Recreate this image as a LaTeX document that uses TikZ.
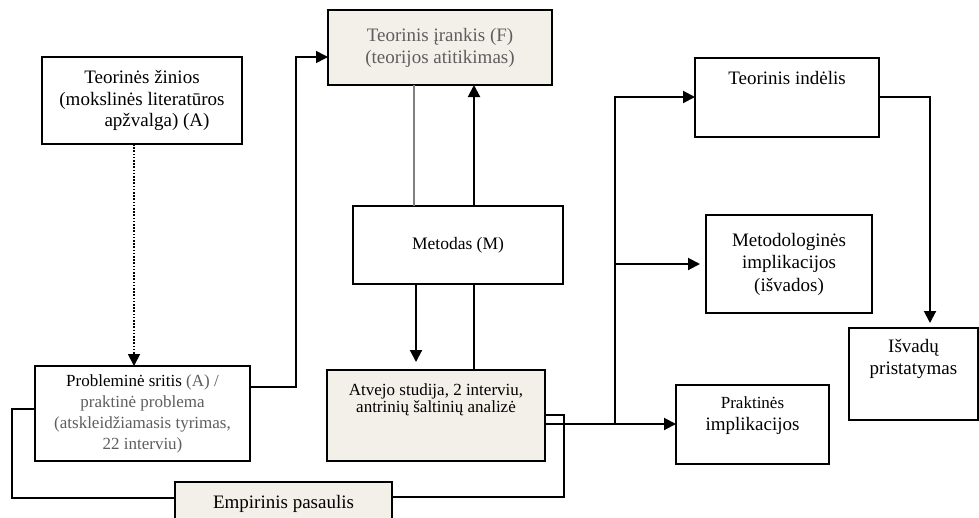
\documentclass[tikz,border=0pt]{standalone}
\usepackage{fontspec}
\setmainfont{Liberation Serif}
\usetikzlibrary{arrows.meta,calc}
\definecolor{beige}{HTML}{F2F0E9}
\definecolor{txtgrey}{HTML}{5E5E5E}
\begin{document}
\begin{tikzpicture}[x=1pt,y=-1pt,
  box/.style={draw=black,line width=1.3pt,rectangle,inner sep=0pt,outer sep=0pt,align=center},
  fillbox/.style={box,fill=beige},
  lbl/.style={inner sep=0pt,align=center},
  conn/.style={line width=2pt},
  arr/.style={conn,-{Triangle[length=12pt,width=12pt]}},
  thinarr/.style={line width=1.5pt,-{Triangle[length=12pt,width=12pt]}},
  thinline/.style={line width=1.1pt},
  greyline/.style={line width=1.3pt,draw=gray},
  dotarr/.style={line width=1.8pt,dash pattern=on 1.6pt off 1.6pt,-{Triangle[length=12pt,width=12pt]}},
  big/.style={font=\fontsize{19}{22}\selectfont},
  small/.style={font=\fontsize{17}{21}\selectfont}
]
\useasboundingbox (0,0) rectangle (979,517);
\clip (0,0) rectangle (979,517);
\fill[white] (0,0) rectangle (979,517);

% boxes
\node[box,big,minimum width=200pt,minimum height=87pt,font=\fontsize{19}{21.5}\selectfont] (zin) at (142,100.5)
  {Teorinės žinios\\(mokslinės literatūros\\\hspace*{30pt}apžvalga) (A)};
\node[fillbox,big,text=txtgrey,minimum width=224pt,minimum height=75pt] (frank) at (440,47.5)
  {Teorinis įrankis (F)\\(teorijos atitikimas)};
\node[box,minimum width=210pt,minimum height=78pt,font=\fontsize{17.5}{21}\selectfont] (meto) at (458,245)
  {Metodas (M)};
\node[fillbox,minimum width=218pt,minimum height=91pt] (atv) at (436,415.5) {};
\node[lbl,font=\fontsize{17}{17.5}\selectfont] (atvT) at (436,400)
  {Atvejo studija, 2 interviu,\\antrinių šaltinių analizė};
\node[box,small,text=txtgrey,minimum width=215pt,minimum height=95pt] (prob) at (142.5,413.5)
  {{\color{black}Probleminė sritis} (A) /\\praktinė problema\\(atskleidžiamasis tyrimas,\\22 interviu)};
\node[fillbox,big,minimum width=217pt,minimum height=44pt] (emp) at (283.5,504)
  {Empirinis pasaulis};
\node[box,minimum width=184pt,minimum height=79pt] (ind) at (787,97.5) {};
\node[lbl,big] (indT) at (787,78) {Teorinis indėlis};
\node[box,big,minimum width=166pt,minimum height=98pt,font=\fontsize{19}{22.5}\selectfont] (metl) at (789,264)
  {Metodologinės\\implikacijos\\(išvados)};
\node[box,minimum width=153pt,minimum height=79pt] (prak) at (752.5,424.5) {};
\node[lbl,font=\fontsize{19}{22}\selectfont] (prakT) at (752.5,416)
  {{\fontsize{17}{22}\selectfont Praktinės}\\implikacijos};
\node[box,minimum width=129pt,minimum height=92pt] (isv) at (913.5,374) {};
\node[lbl,big] (isvT) at (913.5,359) {Išvadų\\pristatymas};

% connectors
\draw[dotarr] ([xshift=-8pt]zin.south) -- ([xshift=-8pt]zin.south |- prob.north);
\draw[thinarr] ([yshift=26.5pt]prob.east) -| ([xshift=-32pt,yshift=-9.5pt]frank.west) -- ([yshift=-9.5pt]frank.west);
\draw[greyline] ([xshift=-26pt]frank.south) -- ([xshift=-26pt]frank.south |- meto.north);
\draw[arr] ([xshift=16pt]meto.north) -- ([xshift=16pt]meto.north |- frank.south);
\draw[arr,shorten >=8pt] ([xshift=-42pt]meto.south) -- ([xshift=-42pt]meto.south |- atv.north);
\draw[thinline] ([xshift=16pt]meto.south) -- ([xshift=16pt]meto.south |- atv.north);
\draw[line width=1.4pt] ([yshift=4.5pt]prob.west) -- ++(-23,0) |- ([yshift=6pt]emp.west);
\draw[line width=1.4pt] ([yshift=7pt]emp.east) -| ([xshift=19pt,yshift=0.5pt]atv.east) -- ([yshift=0.5pt]atv.east);
\draw[arr] ([yshift=-8.5pt]atv.east) -- ([yshift=-8.5pt]atv.east -| prak.west);
\coordinate (jn) at (615,424);
\draw[arr] (jn) |- ([yshift=0.5pt]ind.west);
\draw[arr,shorten >=6pt] (jn |- metl.west) -- (metl.west);
\draw[arr,shorten >=5pt] ([yshift=0.5pt]ind.east) -| ([xshift=16.5pt]isv.north);
\end{tikzpicture}
\end{document}
